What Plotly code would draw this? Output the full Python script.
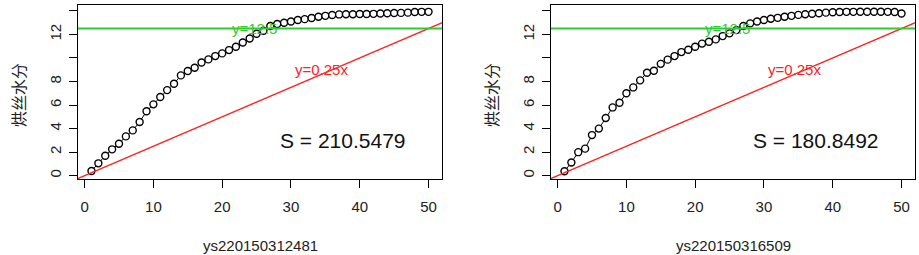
import plotly.graph_objects as go

W, H = 919, 255

x_vals = list(range(1, 51))

# left panel: ys220150312481
y_left = [0.40, 1.05, 1.70, 2.24, 2.72, 3.34, 3.85, 4.56, 5.47, 6.06,
          6.68, 7.27, 7.81, 8.52, 8.89, 9.17, 9.62, 9.88, 10.16, 10.39,
          10.67, 10.95, 11.32, 11.66, 12.06, 12.31, 12.71, 12.88, 12.99, 13.10,
          13.22, 13.30, 13.39, 13.50, 13.58, 13.65, 13.70, 13.72, 13.72, 13.73,
          13.74, 13.75, 13.78, 13.80, 13.82, 13.83, 13.85, 13.90, 13.92, 13.92]

# right panel: ys220150316509
y_right = [0.38, 1.12, 2.00, 2.30, 3.45, 4.00, 4.90, 5.80, 6.20, 7.00,
           7.50, 8.10, 8.74, 8.91, 9.50, 9.86, 10.16, 10.50, 10.70, 10.95,
           11.22, 11.38, 11.58, 11.86, 12.09, 12.37, 12.71, 12.94, 13.10, 13.22,
           13.33, 13.41, 13.50, 13.58, 13.66, 13.72, 13.76, 13.80, 13.85, 13.88,
           13.90, 13.92, 13.92, 13.93, 13.93, 13.93, 13.93, 13.92, 13.90, 13.78]

panel_names = ["ys220150312481", "ys220150316509"]
s_labels = ["S = 210.5479", "S = 180.8492"]
y_title = "烘丝水分"

x_ticks = [0, 10, 20, 30, 40, 50]
y_ticks = [0, 2, 4, 6, 8, 10, 12, 14]
y_ticktext = ["0", "2", "4", "6", "8", "", "12", ""]

h_level = 12.5
slope = 0.25
h_text = "y=12.5"
slope_text = "y=0.25x"

# pixel geometry of the two plot boxes (page coordinates)
boxes = [(78, 442), (551, 915)]
box_top, box_bottom = 5, 179

FONT = "Arial, Liberation Sans, sans-serif"
GREEN = "#2ecc2e"
RED = "#ff2020"


def px(v):
    return v / W


def py(v):
    return 1 - v / H


fig = go.Figure()

series = [y_left, y_right]
for i, ys in enumerate(series):
    xa = "x" if i == 0 else "x2"
    ya = "y" if i == 0 else "y2"
    fig.add_trace(go.Scatter(
        x=x_vals, y=ys, xaxis=xa, yaxis=ya, mode="lines+markers",
        line=dict(color="black", width=1),
        marker=dict(symbol="circle", size=7, color="white",
                    line=dict(color="black", width=1.4)),
        showlegend=False, hoverinfo="skip"))
    lx = [-5, 60]
    fig.add_trace(go.Scatter(
        x=lx, y=[slope * v for v in lx], xaxis=xa, yaxis=ya, mode="lines",
        line=dict(color=RED, width=1.3), showlegend=False, hoverinfo="skip"))
    fig.add_trace(go.Scatter(
        x=lx, y=[h_level, h_level], xaxis=xa, yaxis=ya, mode="lines",
        line=dict(color=GREEN, width=2), showlegend=False, hoverinfo="skip"))
    fig.add_annotation(x=24.7, y=h_level, xref=xa, yref=ya, text=h_text,
                       xanchor="center", yanchor="middle",
                       showarrow=False, font=dict(family=FONT, size=15, color=GREEN))
    fig.add_annotation(x=34.5, y=9.0, xref=xa, yref=ya, text=slope_text,
                       xanchor="center", yanchor="middle",
                       showarrow=False, font=dict(family=FONT, size=15, color=RED))
    fig.add_annotation(x=37.6, y=3.0, xref=xa, yref=ya, text=s_labels[i],
                       xanchor="center", yanchor="middle",
                       showarrow=False, font=dict(family=FONT, size=21, color="#111"))

    x0, x1 = boxes[i]
    cx = (x0 + x1) / 2
    fig.add_annotation(x=px(cx), y=py(245), xref="paper", yref="paper",
                       xanchor="center", yanchor="middle",
                       text=panel_names[i], showarrow=False,
                       font=dict(family=FONT, size=15, color="#222"))
    fig.add_annotation(x=px(x0 - 60), y=py(95), xref="paper", yref="paper",
                       xanchor="center", yanchor="middle",
                       text=y_title, textangle=-90, showarrow=False,
                       font=dict(family="Noto Sans CJK SC", size=16, color="#222"))

axis_common = dict(showline=True, linecolor="black", linewidth=1, mirror=True,
                   ticks="outside", ticklen=8, tickcolor="black", tickwidth=1,
                   showgrid=False, zeroline=False,
                   tickfont=dict(family=FONT, size=15, color="#222"))

for i in range(2):
    x0, x1 = boxes[i]
    xdom = [px(x0), px(x1)]
    ydom = [py(box_bottom), py(box_top)]
    suffix = "" if i == 0 else "2"
    fig.update_layout(**{
        "xaxis" + suffix: dict(axis_common, domain=xdom, range=[-0.96, 51.96],
                               tickvals=x_ticks, ticklabelstandoff=6,
                               anchor="y" + suffix),
        "yaxis" + suffix: dict(axis_common, domain=ydom, range=[-0.28, 14.5],
                               tickvals=y_ticks, ticktext=y_ticktext,
                               tickangle=-90, ticklabelstandoff=2,
                               anchor="x" + suffix),
    })

fig.update_layout(width=W, height=H, margin=dict(l=0, r=0, t=0, b=0),
                  paper_bgcolor="white", plot_bgcolor="white")

fig.write_html("out.html", config={"displayModeBar": False},
               post_script="document.body.style.margin='0';"
                           "document.body.style.overflow='hidden';")
